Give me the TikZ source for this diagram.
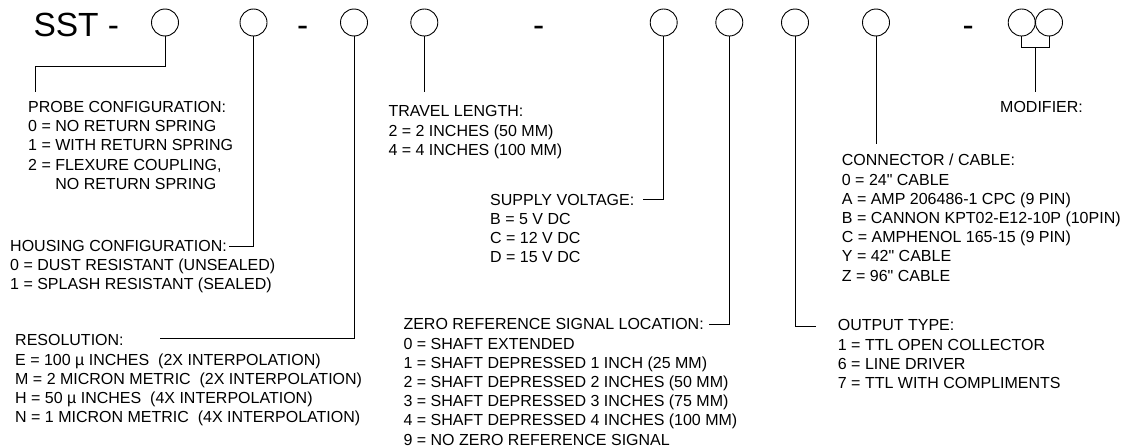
\documentclass[tikz,border=0pt]{standalone}
\usepackage{fontspec}
\setmainfont{Liberation Sans}[Ligatures=TeXOff]
\newcommand\legendblock[4]{%
  \foreach \t [count=\i from 0] in {#4}{%
    \node[txt] (#1-\i) at (#2,#3+19.2*\i) {\t};}}
\begin{document}
\begin{tikzpicture}[x=1pt,y=-1pt,
  txt/.style={font=\fontsize{16}{19.2}\selectfont, inner sep=0pt, anchor=base west},
  big/.style={font=\fontsize{33.5}{40}\selectfont, inner sep=0pt, anchor=base},
  slot/.style={circle, draw, line width=0.9pt, minimum size=27pt, inner sep=0pt},
  lead/.style={line width=0.9pt}]
\useasboundingbox (0,0) rectangle (1125,447);
% code line
\node[big, anchor=base west] (sst) at (33.3,36) {SST -};
\node[big] (d1) at (302.8,36) {-};
\node[big] (d2) at (538.7,36) {-};
\node[big] (d3) at (968.3,36) {-};
\node[slot] (c1) at (165,22.5) {};
\node[slot] (c2) at (253.5,22.5) {};
\node[slot] (c3) at (354,22.5) {};
\node[slot] (c4) at (424.3,22.5) {};
\node[slot] (c5) at (663.7,22.5) {};
\node[slot] (c6) at (729.3,22.5) {};
\node[slot] (c7) at (795,22.5) {};
\node[slot] (c8) at (876,22.5) {};
\node[slot] (m1) at (1021.7,22.5) {};
\node[slot] (m2) at (1049,22.5) {};
% legends
\legendblock{probe}{28}{112.5}{PROBE CONFIGURATION:, 0 = NO RETURN SPRING, 1 = WITH RETURN SPRING, {2 = FLEXURE COUPLING,}, \phantom{2 = }NO RETURN SPRING}
\legendblock{housing}{10}{251.5}{HOUSING CONFIGURATION:, 0 = DUST RESISTANT (UNSEALED), 1 = SPLASH RESISTANT (SEALED)}
\legendblock{res}{15}{345.8}{RESOLUTION:, E = 100 µ INCHES\ \ (2X INTERPOLATION), M = 2 MICRON METRIC\ \ (2X INTERPOLATION), H = 50 µ INCHES\ \ (4X INTERPOLATION), N = 1 MICRON METRIC\ \ (4X INTERPOLATION)}
\legendblock{travel}{388.3}{116.8}{TRAVEL LENGTH:, 2 = 2 INCHES (50 MM), 4 = 4 INCHES (100 MM)}
\legendblock{supply}{490}{205.1}{SUPPLY VOLTAGE:, B = 5 V DC, C = 12 V DC, D = 15 V DC}
\legendblock{zero}{403.3}{329.8}{ZERO REFERENCE SIGNAL LOCATION:, 0 = SHAFT EXTENDED, 1 = SHAFT DEPRESSED 1 INCH (25 MM), 2 = SHAFT DEPRESSED 2 INCHES (50 MM), 3 = SHAFT DEPRESSED 3 INCHES (75 MM), 4 = SHAFT DEPRESSED 4 INCHES (100 MM), 9 = NO ZERO REFERENCE SIGNAL}
\legendblock{conn}{841.7}{165.8}{CONNECTOR / CABLE:, 0 = 24" CABLE, A = AMP 206486-1 CPC (9 PIN), B = CANNON KPT02-E12-10P (10PIN), C = AMPHENOL 165-15 (9 PIN), Y = 42" CABLE, Z = 96" CABLE}
\legendblock{out}{837.7}{330.8}{OUTPUT TYPE:, 1 = TTL OPEN COLLECTOR, 6 = LINE DRIVER, 7 = TTL WITH COMPLIMENTS}
\legendblock{mod}{1000}{112.5}{MODIFIER:}
% free ends
\coordinate (k1a) at (35,66);
\coordinate (k1b) at (35,92);
\coordinate (k3) at (160,338.3);
\coordinate (k4) at (424.3,92);
\coordinate (k7) at (816,326.7);
\coordinate (k8) at (876,144);
\coordinate (k9) at (1035.3,47.7);
\coordinate (k10) at (1035.3,91.7);
% leaders
\draw[lead] (c1.south) |- (k1a) -- (k1b);
\draw[lead] (c2.south) |- ([xshift=2pt]housing-0.east);
\draw[lead] (c3.south) |- (k3);
\draw[lead] (c4.south) -- (k4);
\draw[lead] (c5.south) |- ([xshift=9pt]supply-0.east);
\draw[lead] (c6.south) |- ([xshift=5pt]zero-0.east);
\draw[lead] (c7.south) |- (k7);
\draw[lead] (c8.south) -- (k8);
\draw[lead] (m1.south) |- (k9) -| (m2.south);
\draw[lead] (k9) -- (k10);
\end{tikzpicture}
\end{document}
